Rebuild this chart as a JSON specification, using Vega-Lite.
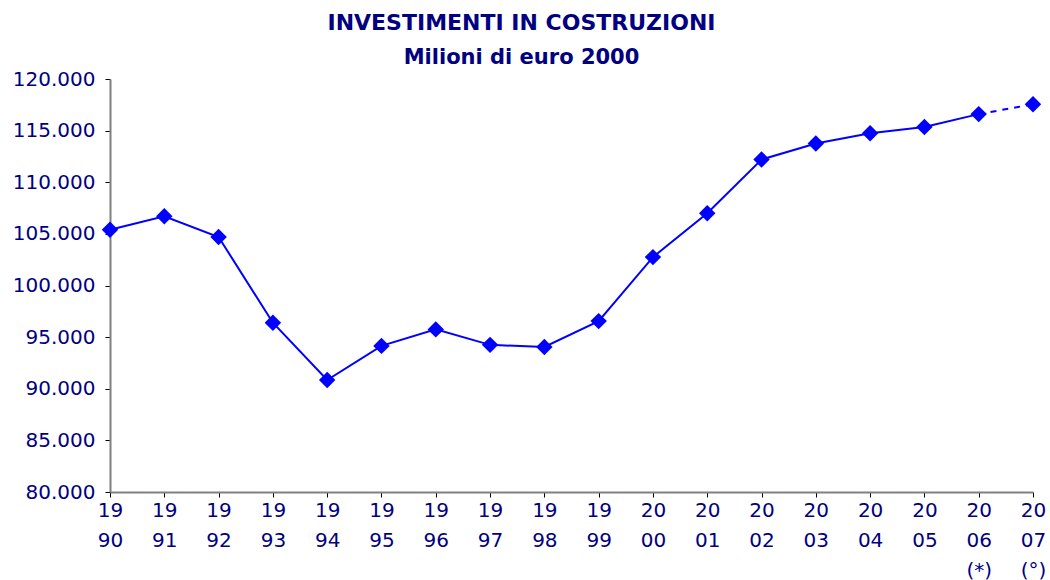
{
  "$schema": "https://vega.github.io/schema/vega-lite/v6.json",
  "width": 923,
  "height": 413,
  "autosize": {"type": "none"},
  "padding": {"left": 110, "top": 79, "right": 17, "bottom": 88},
  "background": "white",
  "title": {
    "text": "INVESTIMENTI IN COSTRUZIONI",
    "subtitle": "Milioni di euro 2000",
    "font": "DejaVu Sans",
    "subtitleFont": "DejaVu Sans",
    "fontSize": 22,
    "subtitleFontSize": 21,
    "fontWeight": "bold",
    "subtitleFontWeight": "bold",
    "color": "#000080",
    "subtitleColor": "#000080",
    "anchor": "middle",
    "dx": -50,
    "offset": 0,
    "subtitlePadding": 12
  },
  "data": {
    "values": [
      {"anno": "1990", "label": "19|90", "valore": 105400},
      {"anno": "1991", "label": "19|91", "valore": 106700},
      {"anno": "1992", "label": "19|92", "valore": 104700},
      {"anno": "1993", "label": "19|93", "valore": 96400},
      {"anno": "1994", "label": "19|94", "valore": 90850},
      {"anno": "1995", "label": "19|95", "valore": 94150},
      {"anno": "1996", "label": "19|96", "valore": 95750},
      {"anno": "1997", "label": "19|97", "valore": 94250},
      {"anno": "1998", "label": "19|98", "valore": 94050},
      {"anno": "1999", "label": "19|99", "valore": 96550},
      {"anno": "2000", "label": "20|00", "valore": 102750},
      {"anno": "2001", "label": "20|01", "valore": 107000},
      {"anno": "2002", "label": "20|02", "valore": 112200},
      {"anno": "2003", "label": "20|03", "valore": 113750},
      {"anno": "2004", "label": "20|04", "valore": 114750},
      {"anno": "2005", "label": "20|05", "valore": 115350},
      {"anno": "2006", "label": "20|06|(*)", "valore": 116600},
      {"anno": "2007", "label": "20|07|(°)", "valore": 117550}
    ]
  },
  "encoding": {
    "x": {
      "field": "label",
      "type": "ordinal",
      "sort": null,
      "scale": {"type": "point", "padding": 0},
      "axis": {
        "title": null,
        "labelAngle": 0,
        "labelExpr": "split(datum.value, '|')",
        "labelFont": "DejaVu Sans",
        "labelFontSize": 20,
        "labelColor": "#000080",
        "labelLineHeight": 30,
        "labelPadding": 3,
        "labelBaseline": "top",
        "domainColor": "#808080",
        "domainWidth": 2,
        "tickColor": "#000000",
        "tickSize": 5,
        "tickWidth": 1,
        "grid": false
      }
    },
    "y": {
      "field": "valore",
      "type": "quantitative",
      "scale": {"domain": [80000, 120000], "nice": false, "zero": false},
      "axis": {
        "title": null,
        "values": [80000, 85000, 90000, 95000, 100000, 105000, 110000, 115000, 120000],
        "labelExpr": "replace(format(datum.value, ','), ',', '.')",
        "labelFont": "DejaVu Sans",
        "labelFontSize": 20,
        "labelColor": "#000080",
        "labelPadding": 10,
        "domainColor": "#808080",
        "domainWidth": 2,
        "tickColor": "#000000",
        "tickSize": 5,
        "tickWidth": 1,
        "grid": false
      }
    }
  },
  "layer": [
    {
      "transform": [{"filter": "datum.anno <= '2006'"}],
      "mark": {"type": "line", "color": "#0000FF", "strokeWidth": 2}
    },
    {
      "transform": [{"filter": "datum.anno >= '2006'"}],
      "mark": {"type": "line", "color": "#0000FF", "strokeWidth": 2, "strokeDash": [6, 6]}
    },
    {
      "mark": {"type": "point", "shape": "diamond", "filled": true, "color": "#0000FF", "size": 270, "opacity": 1}
    }
  ],
  "config": {"view": {"stroke": null}}
}
